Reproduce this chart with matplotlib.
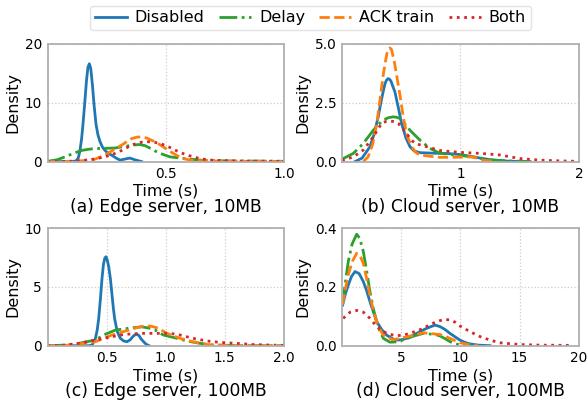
"""
KDE of download completion time, edge vs cloud server, four pacing modes.
Curve points read off the original figure.
"""

import matplotlib
matplotlib.use('Agg')
import matplotlib.pyplot as plt

modes = ["Disabled", "Delay", "ACK train", "Both"]
colors = ["#1f77b4", "#2ca02c", "#ff7f0e", "#d62728"]
styles = ["-", "-.", "--", ":"]

# (a) Edge server, 10MB
a_disabled_t = [0.0, 0.10, 0.12, 0.13, 0.137, 0.144, 0.15, 0.158, 0.165, 0.171, 0.177, 0.183, 0.19, 0.197, 0.205,
                0.213, 0.222, 0.232, 0.243, 0.257, 0.271, 0.29, 0.307, 0.33, 0.349, 0.37, 0.398]
a_disabled_d = [0.0, 0.0, 0.1, 0.6, 1.8, 3.8, 6.3, 10.2, 13.8, 16.0, 16.6, 15.8, 13.0, 9.6, 6.4,
                4.6, 3.4, 2.5, 1.9, 1.4, 1.1, 0.6, 0.25, 0.45, 0.6, 0.3, 0.0]
a_delay_t = [0.0, 0.04, 0.074, 0.11, 0.145, 0.175, 0.2, 0.24, 0.285, 0.33, 0.36, 0.39, 0.413, 0.433, 0.455, 0.476,
             0.518, 0.573, 0.645, 0.75, 0.9, 1.0]
a_delay_d = [0.05, 0.3, 0.8, 1.4, 1.9, 2.1, 2.2, 2.25, 2.3, 2.6, 2.8, 2.9, 2.7, 2.3, 1.8, 1.4,
             0.8, 0.55, 0.25, 0.12, 0.08, 0.05]
a_ack_t = [0.0, 0.1, 0.15, 0.2, 0.243, 0.28, 0.314, 0.336, 0.356, 0.378, 0.398, 0.42, 0.447, 0.47, 0.49, 0.511,
           0.532, 0.553, 0.574, 0.6, 0.63, 0.75, 1.0]
a_ack_d = [0.0, 0.05, 0.15, 0.4, 1.1, 2.0, 2.8, 3.4, 3.9, 4.15, 4.2, 4.0, 3.5, 3.0, 2.5, 1.9,
           1.4, 0.9, 0.5, 0.3, 0.2, 0.05, 0.03]
a_both_t = [0.0, 0.1, 0.18, 0.243, 0.28, 0.314, 0.356, 0.385, 0.412, 0.433, 0.455, 0.476, 0.518, 0.56, 0.6, 0.645,
            0.687, 0.8, 1.0]
a_both_d = [0.0, 0.05, 0.3, 0.8, 1.3, 1.9, 2.8, 3.2, 3.4, 3.35, 3.25, 3.1, 2.4, 1.55, 1.0, 0.5,
            0.25, 0.1, 0.05]

# (b) Cloud server, 10MB
b_disabled_t = [0.11, 0.17, 0.236, 0.27, 0.306, 0.33, 0.349, 0.363, 0.375, 0.388, 0.4, 0.413, 0.425, 0.436, 0.447,
                0.475, 0.504, 0.54, 0.574, 0.61, 0.658, 0.75, 0.9, 0.996, 1.108, 1.249, 1.4, 1.5]
b_disabled_d = [0.0, 0.15, 0.63, 1.15, 1.9, 2.55, 3.0, 3.3, 3.45, 3.52, 3.5, 3.42, 3.25, 3.1, 2.95,
                2.3, 1.6, 1.0, 0.63, 0.45, 0.38, 0.36, 0.34, 0.3, 0.2, 0.08, 0.02, 0.0]
b_delay_t = [0.0, 0.096, 0.18, 0.264, 0.31, 0.349, 0.39, 0.433, 0.46, 0.49, 0.53, 0.574, 0.658, 0.743, 0.827, 0.968,
             1.1, 1.25, 1.39, 1.6]
b_delay_d = [0.1, 0.35, 0.77, 1.33, 1.58, 1.76, 1.86, 1.9, 1.88, 1.83, 1.6, 1.33, 0.91, 0.56, 0.35, 0.28,
             0.2, 0.07, 0.03, 0.0]
b_ack_t = [0.18, 0.22, 0.26, 0.293, 0.32, 0.349, 0.365, 0.38, 0.393, 0.405, 0.418, 0.43, 0.445, 0.46, 0.49,
           0.517, 0.55, 0.588, 0.62, 0.658, 0.75, 0.827, 0.91, 1.0, 1.108, 1.19, 1.3]
b_ack_d = [0.0, 0.2, 0.75, 1.6, 2.6, 3.7, 4.2, 4.6, 4.78, 4.82, 4.75, 4.5, 4.15, 3.7, 2.8,
           1.9, 1.1, 0.63, 0.4, 0.28, 0.22, 0.18, 0.18, 0.19, 0.2, 0.06, 0.0]
b_both_t = [0.0, 0.096, 0.18, 0.264, 0.3, 0.335, 0.37, 0.405, 0.44, 0.475, 0.51, 0.546, 0.58, 0.616, 0.715, 0.827,
            0.996, 1.165, 1.333, 1.5, 1.67, 1.84, 2.0]
b_both_d = [0.05, 0.2, 0.49, 1.05, 1.35, 1.62, 1.7, 1.72, 1.7, 1.62, 1.42, 1.19, 0.95, 0.77, 0.63, 0.47,
            0.39, 0.35, 0.28, 0.13, 0.06, 0.03, 0.01]

# (c) Edge server, 100MB
c_disabled_t = [0.0, 0.35, 0.377, 0.405, 0.42, 0.433, 0.447, 0.461, 0.473, 0.485, 0.495, 0.505, 0.518, 0.532,
                0.545, 0.557, 0.568, 0.59, 0.616, 0.645, 0.672, 0.7, 0.72, 0.74, 0.757, 0.775, 0.79, 0.813, 0.835, 0.86]
c_disabled_d = [0.0, 0.0, 0.05, 0.6, 1.3, 2.3, 3.9, 5.7, 6.9, 7.45, 7.56, 7.3, 6.7, 5.7,
                4.4, 3.2, 2.3, 1.2, 0.63, 0.4, 0.34, 0.5, 0.75, 0.93, 0.97, 0.85, 0.6, 0.34, 0.12, 0.0]
c_delay_t = [0.0, 0.15, 0.264, 0.405, 0.475, 0.574, 0.686, 0.75, 0.8, 0.86, 0.911, 0.98, 1.066, 1.18, 1.29, 1.4,
             1.6, 2.0]
c_delay_d = [0.0, 0.05, 0.2, 0.48, 0.91, 1.33, 1.48, 1.56, 1.6, 1.5, 1.33, 0.91, 0.7, 0.4, 0.2, 0.05,
             0.0, 0.0]
c_ack_t = [0.0, 0.15, 0.264, 0.405, 0.546, 0.686, 0.76, 0.827, 0.88, 0.94, 1.01, 1.12, 1.23, 1.35, 1.6, 2.0]
c_ack_d = [0.0, 0.03, 0.15, 0.34, 0.91, 1.33, 1.55, 1.7, 1.65, 1.48, 1.05, 0.63, 0.34, 0.1, 0.0, 0.0]
c_both_t = [0.0, 0.15, 0.264, 0.405, 0.546, 0.658, 0.8, 0.94, 1.04, 1.12, 1.23, 1.35, 1.46, 1.6, 1.74, 1.9, 2.0]
c_both_d = [0.0, 0.05, 0.2, 0.48, 0.77, 0.97, 1.05, 1.05, 1.05, 0.91, 0.63, 0.4, 0.28, 0.2, 0.1, 0.05, 0.03]

# (d) Cloud server, 100MB
d_disabled_t = [0.05, 0.3, 0.53, 0.8, 1.1, 1.45, 1.8, 2.08, 2.36, 2.65, 2.93, 3.35, 3.77, 4.47, 5.0, 5.46, 6.0,
                6.58, 7.2, 7.85, 8.27, 8.7, 9.11, 9.55, 9.96, 10.4, 10.8, 11.5, 12.5]
d_disabled_d = [0.138, 0.178, 0.206, 0.235, 0.252, 0.245, 0.218, 0.187, 0.15, 0.115, 0.082, 0.055, 0.036, 0.019,
                0.02, 0.025, 0.035, 0.048, 0.06, 0.07, 0.065, 0.055, 0.042, 0.03, 0.019, 0.011, 0.006, 0.002, 0.0]
d_delay_t = [0.05, 0.3, 0.53, 0.85, 1.24, 1.5, 1.8, 2.08, 2.36, 2.65, 2.93, 3.2, 3.49, 4.05, 4.6, 5.2, 6.0, 6.86,
             7.9, 8.27, 8.7, 9.11, 9.55, 9.96, 11.0]
d_delay_d = [0.14, 0.22, 0.286, 0.345, 0.379, 0.365, 0.32, 0.255, 0.184, 0.125, 0.082, 0.048, 0.025, 0.012,
             0.013, 0.02, 0.032, 0.042, 0.038, 0.033, 0.024, 0.014, 0.007, 0.002, 0.0]
d_ack_t = [0.05, 0.3, 0.53, 0.85, 1.24, 1.5, 1.8, 2.08, 2.36, 2.65, 2.93, 3.2, 3.49, 4.3, 5.46, 6.86, 8.27, 8.7,
           9.11, 9.55, 9.96, 10.8, 11.5]
d_ack_d = [0.14, 0.195, 0.24, 0.285, 0.314, 0.308, 0.28, 0.228, 0.17, 0.12, 0.082, 0.055, 0.036, 0.02, 0.03,
           0.044, 0.038, 0.032, 0.025, 0.017, 0.01, 0.003, 0.0]
d_both_t = [0.1, 0.68, 1.24, 1.8, 2.36, 2.93, 3.49, 4.0, 4.6, 5.15, 5.74, 6.3, 6.86, 7.4, 7.99, 8.6, 9.11, 9.55,
            9.96, 10.4, 10.8, 11.65, 12.5, 13.3, 15.0, 16.7, 19.5]
d_both_d = [0.093, 0.114, 0.12, 0.114, 0.093, 0.065, 0.048, 0.039, 0.034, 0.036, 0.042, 0.05, 0.059, 0.071,
            0.082, 0.089, 0.088, 0.08, 0.067, 0.057, 0.048, 0.031, 0.019, 0.01, 0.004, 0.002, 0.001]

panels = [
    ("(a) Edge server, 10MB", [(a_disabled_t, a_disabled_d), (a_delay_t, a_delay_d), (a_ack_t, a_ack_d), (a_both_t, a_both_d)],
     (0, 1.0), [0.5, 1.0], ["0.5", "1.0"], (0, 20), [0, 10, 20], ["0", "10", "20"]),
    ("(b) Cloud server, 10MB", [(b_disabled_t, b_disabled_d), (b_delay_t, b_delay_d), (b_ack_t, b_ack_d), (b_both_t, b_both_d)],
     (0, 2.0), [1, 2], ["1", "2"], (0, 5.0), [0, 2.5, 5.0], ["0.0", "2.5", "5.0"]),
    ("(c) Edge server, 100MB", [(c_disabled_t, c_disabled_d), (c_delay_t, c_delay_d), (c_ack_t, c_ack_d), (c_both_t, c_both_d)],
     (0, 2.0), [0.5, 1.0, 1.5, 2.0], ["0.5", "1.0", "1.5", "2.0"], (0, 10), [0, 5, 10], ["0", "5", "10"]),
    ("(d) Cloud server, 100MB", [(d_disabled_t, d_disabled_d), (d_delay_t, d_delay_d), (d_ack_t, d_ack_d), (d_both_t, d_both_d)],
     (0, 20), [5, 10, 15, 20], ["5", "10", "15", "20"], (0, 0.4), [0, 0.2, 0.4], ["0.0", "0.2", "0.4"]),
]

# axes boxes in figure fraction (left, bottom, width, height)
boxes = [(0.0808, 0.601, 0.402, 0.291), (0.5816, 0.601, 0.403, 0.291),
         (0.0808, 0.1464, 0.402, 0.2906), (0.5816, 0.1464, 0.403, 0.2906)]

fig = plt.figure(figsize=(5.88, 4.05), dpi=100)

for box, (caption, curves, xlim, xt, xtl, ylim, yt, ytl) in zip(boxes, panels):
    ax = fig.add_axes(box)
    for (t, d), c, ls, name in zip(curves, colors, styles, modes):
        ax.plot(t, d, color=c, linestyle=ls, linewidth=2, label=name)
    ax.set_xlim(*xlim)
    ax.set_ylim(*ylim)
    ax.set_xticks(xt)
    ax.set_xticklabels(xtl)
    ax.set_yticks(yt)
    ax.set_yticklabels(ytl)
    ax.tick_params(length=0, pad=4, labelsize=9.8)
    ax.grid(True, linestyle=":", color="#cccccc", linewidth=0.9)
    for s in ax.spines.values():
        s.set_color("#b0b0b0")
        s.set_linewidth(1.3)
    ax.set_xlabel("Time (s)", fontsize=11.5, labelpad=2)
    ax.set_ylabel("Density", fontsize=11.5, labelpad=3)
    ax.text(0.5, -0.385, caption, transform=ax.transAxes, ha="center", va="center", fontsize=12.3)

handles, labels = fig.axes[0].get_legend_handles_labels()
fig.legend(handles, labels, loc="center", bbox_to_anchor=(0.528, 0.956), ncol=4,
           fontsize=11.5, frameon=True, edgecolor="#dddddd", handlelength=2.0,
           columnspacing=0.9, handletextpad=0.5, borderpad=0.3)

fig.savefig("out.png", dpi=100)
